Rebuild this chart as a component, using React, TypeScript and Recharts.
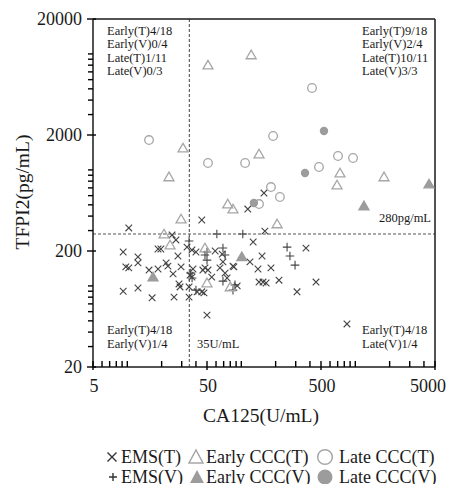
import React from 'react';
import { ScatterChart, Scatter, XAxis, YAxis, ReferenceLine } from 'recharts';

// [CA125 U/mL, TFPI2 pg/mL]
const emsT = [
  [10.3, 316], [45, 370], [9.2, 196], [12.4, 178], [12.4, 158], [10.3, 143], [9.7, 146],
  [15.5, 137], [18.6, 140], [18.6, 208], [19.7, 208], [21.9, 158], [22.7, 148], [25.2, 127],
  [27.8, 181], [26.7, 249], [24.7, 275], [29.6, 146], [28.4, 104], [29, 98], [25.7, 80],
  [16.5, 79], [9.2, 90], [12.4, 96], [33.4, 216], [37.7, 140], [36.9, 119], [34.8, 98],
  [34.8, 80], [45, 89], [47, 87], [40, 196], [48, 143], [51, 137], [55, 119], [65, 143],
  [72, 129], [75, 117], [59, 200], [68, 188], [69, 161], [84.5, 148], [92, 100], [119, 161],
  [127, 239], [140, 140], [152, 181], [155, 108], [165, 106], [50, 56], [114, 460], [158, 632],
  [161, 297], [369, 212], [86, 146], [182, 143], [214, 112], [308, 89], [452, 108], [845, 47],
  [36.9, 204], [46, 137], [41, 89], [35.5, 124], [143, 108],
];
const emsV = [
  [34.8, 244], [61, 280], [103, 280], [69, 212], [72, 185], [48, 185], [50, 167], [36, 129],
  [37, 117], [40, 92], [69, 110], [84.5, 92], [88, 102], [252, 216], [267, 181], [296, 151],
  [50, 196],
];
const earlyT = [
  [51, 8000], [122, 9800], [30.8, 1540], [23.2, 870], [143, 1370], [76, 508], [84.5, 460],
  [206, 342], [734, 940], [691, 740], [1785, 870], [29.6, 377], [21, 280], [23.7, 225],
  [48, 212], [50, 106], [80, 98],
];
const earlyV = [[16.8, 119], [101, 178], [1190, 489], [4430, 756]];
const lateT = [
  [15.5, 1810], [51, 1147], [108, 1147], [190, 1960], [182, 712], [218, 584], [143, 508],
  [480, 1060], [705, 1318], [955, 1267], [417, 5085],
];
const lateV = [[531, 2166], [362, 940], [129, 519]];

const xTicks = [5, 6, 7, 8, 9, 10, 20, 30, 40, 50, 60, 70, 80, 90, 100, 200, 300, 400, 500, 600, 700, 800, 900, 1000, 2000, 3000, 4000, 5000];
const xLabels = [5, 50, 500, 5000];
const yTicks = [20, 30, 40, 50, 60, 70, 80, 90, 100, 200, 300, 400, 500, 600, 700, 800, 900, 1000, 2000, 3000, 4000, 5000, 6000, 7000, 8000, 9000, 10000, 20000];
const yLabels = [20, 200, 2000, 20000];

const cutoffCA125 = 35;
const cutoffTFPI2 = 280;

const topLeft = ['Early(T)4/18', 'Early(V)0/4', 'Late(T)1/11', 'Late(V)0/3'];
const topRight = ['Early(T)9/18', 'Early(V)2/4', 'Late(T)10/11', 'Late(V)3/3'];
const bottomLeft = ['Early(T)4/18', 'Early(V)1/4'];
const bottomRight = ['Early(T)4/18', 'Late(V)1/4'];

const toPts = (rows: number[][]) => rows.map(([ca125, tfpi2]) => ({ ca125, tfpi2 }));

const FONT = "'Liberation Serif', 'Times New Roman', serif";
const INK = '#1a1a1a';
const DARK = '#444';
const LIGHT = '#a6a6a6';
const FILL = '#9c9c9c';

const XTick = (props: any) => {
  const { x, y, payload } = props;
  const major = xLabels.includes(payload.value);
  const last = payload.value === 5000;
  return (
    <g>
      <line x1={x} x2={x} y1={y + (major ? 3 : 0)} y2={y - 6} stroke="#000" strokeWidth={1.4} />
      {major && (
        <text x={x} dx={last ? -7 : 1} y={y + 25} textAnchor="middle" fontFamily={FONT} fontSize={18} fill={INK}>
          {payload.value}
        </text>
      )}
    </g>
  );
};

const YTick = (props: any) => {
  const { x, y, payload } = props;
  const major = yLabels.includes(payload.value);
  return (
    <g>
      <line x1={x - (major ? 6 : 5)} x2={x + (major ? 3 : 0)} y1={y} y2={y} stroke="#000" strokeWidth={1.4} />
      {major && (
        <text x={x - 11} y={y + 6} textAnchor="end" fontFamily={FONT} fontSize={18} fill={INK}>
          {payload.value}
        </text>
      )}
    </g>
  );
};

const Cross = ({ cx, cy }: any) => (
  <path d={`M${cx - 3.3},${cy - 3.3}L${cx + 3.3},${cy + 3.3}M${cx - 3.3},${cy + 3.3}L${cx + 3.3},${cy - 3.3}`} stroke={DARK} strokeWidth={1.1} />
);
const Plus = ({ cx, cy }: any) => (
  <path d={`M${cx - 4.3},${cy}L${cx + 4.3},${cy}M${cx},${cy - 4.3}L${cx},${cy + 4.3}`} stroke={DARK} strokeWidth={1.1} />
);
const Tri = ({ cx, cy, filled }: any) => (
  <polygon
    points={`${cx},${cy - 4.8} ${cx - 5},${cy + 3.8} ${cx + 5},${cy + 3.8}`}
    fill={filled ? FILL : 'none'}
    stroke={filled ? FILL : LIGHT}
    strokeWidth={1.3}
  />
);
const OpenTri = (p: any) => <Tri {...p} />;
const FilledTri = (p: any) => <Tri {...p} filled />;
const OpenCircle = ({ cx, cy }: any) => <circle cx={cx} cy={cy} r={4.3} fill="none" stroke={LIGHT} strokeWidth={1.3} />;
const FilledCircle = ({ cx, cy }: any) => <circle cx={cx} cy={cy} r={4.2} fill={FILL} />;

const textStyle = { fontFamily: FONT, fill: INK };

const App = () => {
  return (
    <div style={{ position: 'absolute', left: 0, top: 0, width: 450, height: 484, background: '#fff' }}>
      <ScatterChart width={450} height={484} margin={{ top: 18, right: 14, bottom: 0, left: 33 }}>
        <XAxis xAxisId="top" orientation="top" type="number" scale="log" domain={[5, 5000]} height={1} tick={false} tickLine={false} axisLine={{ stroke: INK, strokeWidth: 1.5 }} />
        <YAxis yAxisId="right" orientation="right" type="number" scale="log" domain={[20, 20000]} width={1} tick={false} tickLine={false} axisLine={{ stroke: INK, strokeWidth: 1.5 }} />
        <XAxis
          dataKey="ca125"
          type="number"
          scale="log"
          domain={[5, 5000]}
          ticks={xTicks}
          interval={0}
          height={117}
          tickSize={0}
          tickMargin={0}
          tickLine={false}
          tick={<XTick />}
          axisLine={{ stroke: INK, strokeWidth: 1.5 }}
          allowDataOverflow
        />
        <YAxis
          dataKey="tfpi2"
          type="number"
          scale="log"
          domain={[20, 20000]}
          ticks={yTicks}
          interval={0}
          width={60}
          tickSize={0}
          tickMargin={0}
          tickLine={false}
          tick={<YTick />}
          axisLine={{ stroke: INK, strokeWidth: 1.5 }}
          allowDataOverflow
        />
        <ReferenceLine x={cutoffCA125} stroke="#555" strokeDasharray="3 2" strokeWidth={1.1} />
        <ReferenceLine y={cutoffTFPI2} stroke="#555" strokeDasharray="3 2" strokeWidth={1.1} />
        <Scatter data={toPts(emsT)} shape={<Cross />} isAnimationActive={false} />
        <Scatter data={toPts(emsV)} shape={<Plus />} isAnimationActive={false} />
        <Scatter data={toPts(earlyT)} shape={<OpenTri />} isAnimationActive={false} />
        <Scatter data={toPts(earlyV)} shape={<FilledTri />} isAnimationActive={false} />
        <Scatter data={toPts(lateT)} shape={<OpenCircle />} isAnimationActive={false} />
        <Scatter data={toPts(lateV)} shape={<FilledCircle />} isAnimationActive={false} />
      </ScatterChart>

      <svg width={450} height={484} style={{ position: 'absolute', left: 0, top: 0, pointerEvents: 'none' }}>
        <g {...textStyle} fontSize={12.5}>
          {topLeft.map((t, i) => (
            <text key={'tl' + i} x={107} y={34.5 + i * 13.6}>{t}</text>
          ))}
          {topRight.map((t, i) => (
            <text key={'tr' + i} x={362} y={34.5 + i * 13.6}>{t}</text>
          ))}
          {bottomLeft.map((t, i) => (
            <text key={'bl' + i} x={107} y={334 + i * 14}>{t}</text>
          ))}
          {bottomRight.map((t, i) => (
            <text key={'br' + i} x={362} y={334 + i * 14}>{t}</text>
          ))}
          <text x={197} y={348}>35U/mL</text>
          <text x={431} y={222} textAnchor="end">280pg/mL</text>
        </g>

        <text x={261} y={422} textAnchor="middle" fontSize={19.5} {...textStyle}>CA125(U/mL)</text>
        <text x={29} y={192} textAnchor="middle" fontSize={19.5} transform="rotate(-90, 29, 192)" {...textStyle}>TFPI2(pg/mL)</text>

        <g {...textStyle} fontSize={18}>
          <path d="M107.5,452.5L116.5,461.5M107.5,461.5L116.5,452.5" stroke="#333" strokeWidth={1.4} />
          <text x={121} y={463}>EMS(T)</text>
          <polygon points="196,450 189,463 203,463" fill="none" stroke={LIGHT} strokeWidth={1.5} />
          <text x={206} y={463}>Early CCC(T)</text>
          <circle cx={325} cy={457} r={7.3} fill="none" stroke={LIGHT} strokeWidth={1.5} />
          <text x={339} y={463}>Late CCC(T)</text>

          <path d="M109,477L117,477M113,473L113,481" stroke="#333" strokeWidth={1.4} />
          <text x={121} y={483}>EMS(V)</text>
          <polygon points="197,470 190,483 204,483" fill={FILL} />
          <text x={206} y={483}>Early CCC(V)</text>
          <circle cx={325} cy={477} r={7.5} fill={FILL} />
          <text x={339} y={483}>Late CCC(V)</text>
        </g>
      </svg>
    </div>
  );
};

export default App;
